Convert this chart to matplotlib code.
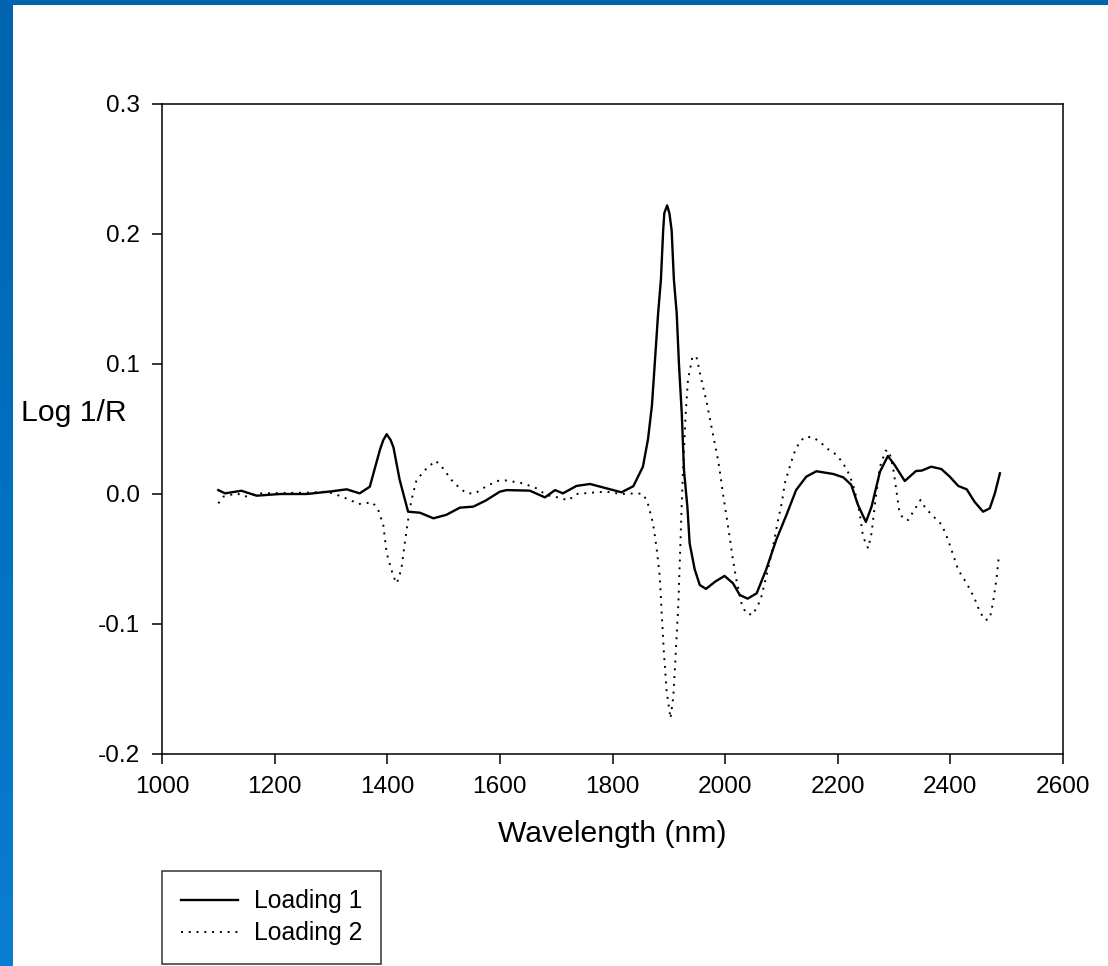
import numpy as np
import matplotlib
matplotlib.use("Agg")
import matplotlib.pyplot as plt
from matplotlib.ticker import FormatStrFormatter
from matplotlib.colors import LinearSegmentedColormap

# ---- data ----
wl_loading1 = [1100, 1112, 1141, 1168, 1210, 1257, 1300, 1328, 1351, 1369, 1387, 1393, 1399, 1406,
               1411, 1422, 1437, 1458, 1482, 1505, 1529, 1553, 1575, 1600, 1612, 1653,
               1680, 1698, 1712, 1736, 1760, 1789, 1816, 1837, 1854, 1863, 1870, 1875, 1881,
               1886, 1890, 1892, 1897, 1901, 1905, 1909, 1914, 1918, 1923, 1927, 1933, 1937, 1946, 1955, 1966, 1982,
               1999, 2014, 2026, 2040, 2056, 2073, 2091, 2109, 2126, 2144, 2162, 2192,
               2210, 2224, 2236, 2250, 2260, 2275, 2289, 2301, 2319, 2339, 2349, 2366,
               2384, 2399, 2414, 2429, 2443, 2458, 2470, 2479, 2488]
loading1 = [0.003, 0.0005, 0.0025, -0.0013, 0.0, 0.0, 0.002, 0.0036, 0.0005, 0.0056, 0.034, 0.0415, 0.046, 0.0415,
            0.036, 0.011, -0.0136, -0.0144, -0.0187, -0.016, -0.0105, -0.0097, -0.005, 0.0018, 0.003, 0.0026,
            -0.0026, 0.003, 0.0005, 0.0062, 0.0077, 0.0044, 0.0013, 0.006, 0.021, 0.042, 0.068, 0.100, 0.139,
            0.165, 0.203, 0.216, 0.222, 0.216, 0.203, 0.165, 0.139, 0.100, 0.062, 0.018, -0.010, -0.038, -0.058, -0.070, -0.073, -0.0675,
            -0.063, -0.0687, -0.0777, -0.0805, -0.0764, -0.058, -0.035, -0.016, 0.003, 0.0133, 0.0175, 0.0154,
            0.0128, 0.007, -0.0085, -0.0215, -0.0098, 0.0172, 0.0292, 0.0223, 0.010, 0.0177, 0.018, 0.021,
            0.0192, 0.0133, 0.0062, 0.0036, -0.006, -0.0136, -0.011, 0.0005, 0.0159]

wl_loading2 = [1100, 1109, 1133, 1147, 1174, 1257, 1292, 1307, 1334, 1349, 1374, 1384,
               1393, 1399, 1411, 1417, 1425, 1431, 1437, 1443, 1452, 1470, 1486, 1499,
               1514, 1529, 1541, 1556, 1570, 1594, 1609, 1636, 1662, 1683, 1710, 1721,
               1736, 1763, 1789, 1816, 1843, 1854, 1862, 1872, 1878, 1884, 1887, 1891,
               1896, 1903, 1908, 1912, 1917, 1920, 1923, 1925, 1930, 1934, 1942, 1949,
               1958, 1967, 1978, 1988, 1992, 1996, 2002, 2008, 2014, 2020, 2029, 2037,
               2049, 2063, 2073, 2085, 2094, 2101, 2106, 2112, 2122, 2132, 2142, 2156,
               2168, 2183, 2195, 2208, 2221, 2230, 2239, 2245, 2254, 2260, 2267, 2275,
               2285, 2291, 2298, 2304, 2309, 2316, 2325, 2334, 2347, 2356, 2369, 2385,
               2396, 2405, 2414, 2429, 2443, 2452, 2462, 2470, 2476, 2482, 2486]
loading2 = [-0.0072, -0.002, 0.0005, -0.002, 0.0005, 0.001, 0.0018, 0.0, -0.0046, -0.0077, -0.0064, -0.0123,
            -0.024, -0.0456, -0.0636, -0.0687, -0.058, -0.038, -0.020, -0.0046, 0.0108, 0.0198, 0.0256, 0.0198,
            0.0108, 0.0044, 0.0005, 0.0005, 0.0044, 0.0100, 0.0105, 0.0087, 0.0051, -0.0008, -0.0033, -0.005,
            0.0, 0.001, 0.0018, 0.0, 0.0005, 0.0, -0.006, -0.0226, -0.0405, -0.0636, -0.089, -0.120,
            -0.151, -0.1726, -0.156, -0.125, -0.084, -0.0456, -0.0072, 0.015, 0.062, 0.0877, 0.1056, 0.1056,
            0.0877, 0.071, 0.0467, 0.0248, 0.0133, 0.0005, -0.016, -0.033, -0.051, -0.066, -0.084, -0.0918,
            -0.093, -0.0815, -0.0636, -0.0405, -0.020, -0.006, 0.0082, 0.017, 0.031, 0.040, 0.044, 0.0436,
            0.0402, 0.0344, 0.031, 0.0248, 0.0146, 0.003, -0.0148, -0.033, -0.0418, -0.0302, -0.0046, 0.021,
            0.0333, 0.0333, 0.021, 0.003, -0.0123, -0.0192, -0.020, -0.0136, -0.0046, -0.011, -0.0169, -0.0238,
            -0.0354, -0.0469, -0.0585, -0.0687, -0.0803, -0.0905, -0.097, -0.0959, -0.0828, -0.0649, -0.0482]

x_ticks = [1000, 1200, 1400, 1600, 1800, 2000, 2200, 2400, 2600]
y_ticks = [-0.2, -0.1, 0.0, 0.1, 0.2, 0.3]
series_labels = ["Loading 1", "Loading 2"]

plt.rcParams['font.family'] = ['Liberation Sans', 'DejaVu Sans']

W, H = 1108, 966
fig = plt.figure(figsize=(W / 100, H / 100), dpi=100)
fig.patch.set_facecolor('white')

# slide border (blue)
top_ax = fig.add_axes([0, 1 - 5 / H, 1, 5 / H])
top_ax.set_axis_off()
top_ax.add_patch(plt.Rectangle((0, 0), 1, 1, transform=top_ax.transAxes, color='#0064AE'))
left_ax = fig.add_axes([0, 0, 12.5 / W, 1])
left_ax.set_axis_off()
cmap = LinearSegmentedColormap.from_list('b', ['#0A7ED2', '#0070C0', '#0064AE'])
left_ax.imshow(np.linspace(0, 1, 256).reshape(-1, 1), aspect='auto', cmap=cmap,
               origin='lower', extent=[0, 1, 0, 1])

ax = fig.add_axes([162 / W, 1 - 754 / H, 901 / W, 650 / H])
l1, = ax.plot(wl_loading1, loading1, color='black', lw=1.7, solid_joinstyle='round',
              label=series_labels[0])
l2, = ax.plot(wl_loading2, loading2, color='black', lw=1.4, linestyle=(0, (1, 3)),
              dash_capstyle='butt', label=series_labels[1])

ax.set_xlim(1000, 2600)
ax.set_ylim(-0.2, 0.3)
ax.set_xticks(x_ticks)
ax.set_yticks(y_ticks)
ax.yaxis.set_major_formatter(FormatStrFormatter('%.1f'))
ax.tick_params(direction='out', length=7.2, width=1.1, labelsize=17.6, pad=8.5,
               top=False, right=False, colors='black')
for s in ax.spines.values():
    s.set_linewidth(1.1)
    s.set_color('black')

ax.set_xlabel('Wavelength (nm)', fontsize=21.7, labelpad=16)
ax.set_ylabel('Log 1/R', fontsize=21.7, rotation=0, ha='left', va='center')
ax.yaxis.set_label_coords((21 - 162) / 901, (754 - 413) / 650)

leg = fig.legend(handles=[l1, l2], loc='upper left',
                 bbox_to_anchor=(162 / W, 1 - 870.5 / H), borderaxespad=0,
                 fontsize=17.8, frameon=True, fancybox=False, edgecolor='black',
                 handlelength=2.3, handletextpad=0.65, labelspacing=0.33,
                 borderpad=0.76)
leg.get_frame().set_linewidth(1.1)

fig.savefig('out.png', dpi=100, facecolor='white')
